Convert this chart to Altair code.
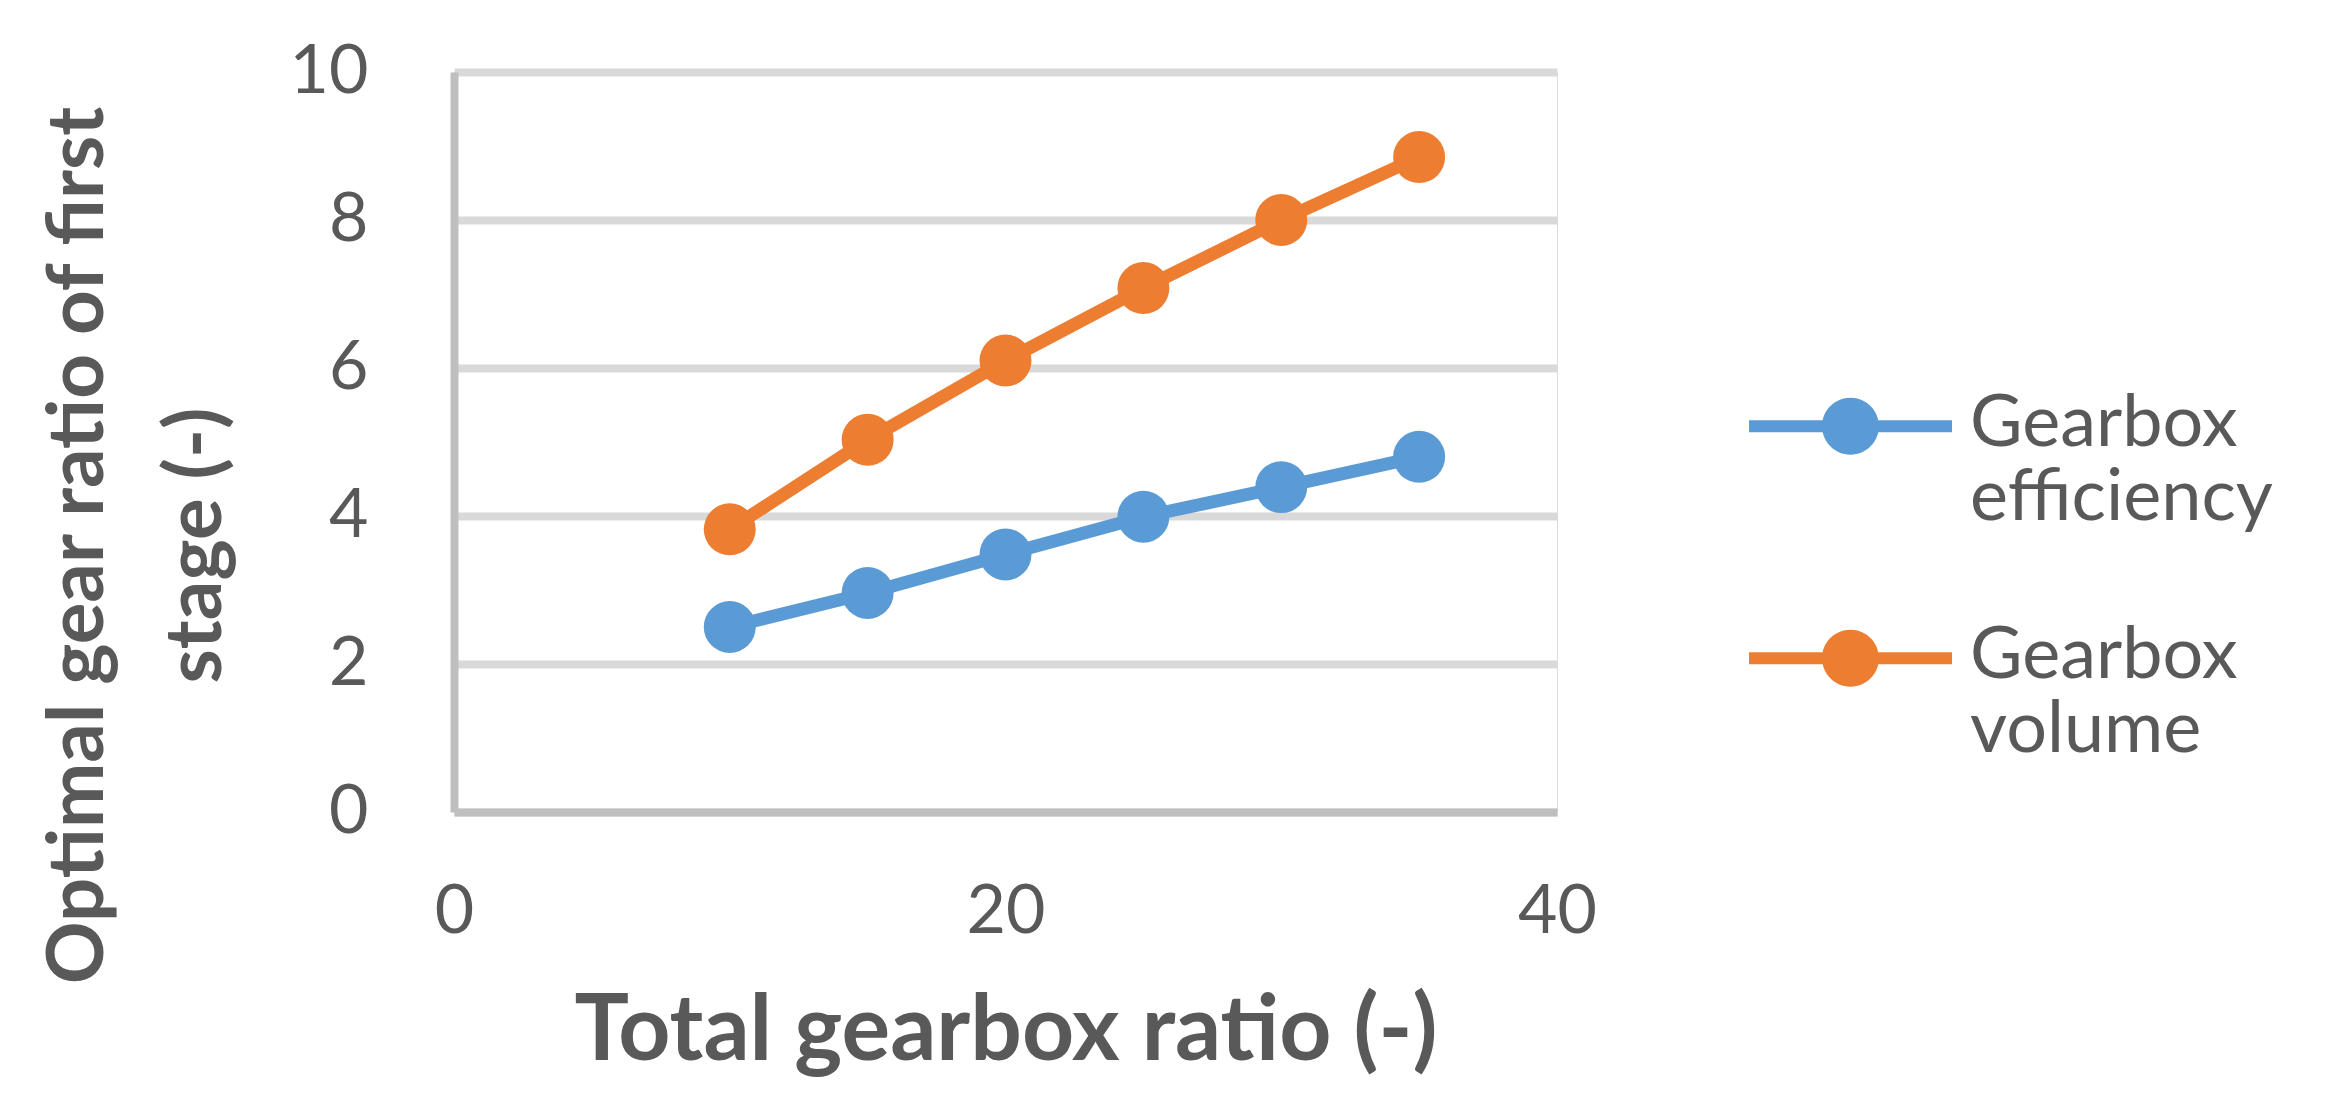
import altair as alt
import pandas as pd

# Data
ratio = [10, 15, 20, 25, 30, 35]
efficiency = [2.50, 2.96, 3.48, 3.99, 4.39, 4.80]
volume = [3.82, 5.03, 6.10, 7.08, 8.00, 8.85]
series = ["Gearbox efficiency", "Gearbox volume"]
colors = ["#5B9BD5", "#ED7D31"]
x_ticks = [0, 20, 40]
y_ticks = [0, 2, 4, 6, 8, 10]

df = pd.DataFrame({
    "ratio": ratio + ratio,
    "value": efficiency + volume,
    "series": [series[0]] * len(ratio) + [series[1]] * len(ratio),
})

TEXT = "#595959"
FONT = "Lato"

legend_path = ("M-1,-0.25L1,-0.25L1,-0.13L-1,-0.13Z "
               "M-0.28,-0.19A0.28,0.28 0 1 1 0.28,-0.19A0.28,0.28 0 1 1 -0.28,-0.19Z")

x_enc = alt.X(
    "ratio:Q",
    scale=alt.Scale(domain=[0, 40], nice=False),
    axis=alt.Axis(
        values=x_ticks, grid=False, ticks=False, tickSize=0,
        domainColor="#BFBFBF", domainWidth=8,
        labelFont=FONT, labelFontSize=68, labelColor=TEXT, labelPadding=66,
        labelBaseline="top", labelFlush=False, labelAlign="center",
        title="Total gearbox ratio (-)", titleFont=FONT, titleFontSize=91,
        titleFontWeight="bold", titleColor=TEXT, titleBaseline="alphabetic",
        titleY=247,
    ),
)
y_enc = alt.Y(
    "value:Q",
    scale=alt.Scale(domain=[0, 10], nice=False),
    axis=alt.Axis(
        values=y_ticks, grid=True, gridColor="#D9D9D9", gridWidth=8,
        ticks=False, tickSize=0, labelFlush=False,
        domainColor="#BFBFBF", domainWidth=8,
        labelFont=FONT, labelFontSize=68, labelColor=TEXT, labelPadding=86,
        title=["Optimal gear ratio of first", "stage (-)"],
        titleFont=FONT, titleFontSize=78, titleFontWeight="bold", titleColor=TEXT,
        titleAngle=270, titleBaseline="alphabetic", titleLineHeight=118,
        titleX=-352, titleY=473,
    ),
)

color_enc = alt.Color(
    "series:N",
    scale=alt.Scale(domain=series, range=colors),
    legend=alt.Legend(
        title=None, orient="none", legendX=1295, legendY=272,
        symbolType=legend_path, symbolSize=41209, symbolStrokeWidth=0,
        labelFont=FONT, labelFontSize=72, labelColor=TEXT,
        labelBaseline="alphabetic", labelOffset=18,
        labelLimit=1000, labelExpr="split(datum.label, ' ')",
        rowPadding=42, padding=0,
    ),
)

points = alt.Chart(df).mark_point(filled=True, size=2700, opacity=1).encode(
    x=x_enc, y=y_enc, color=color_enc,
)
line = alt.Chart(df).mark_line(strokeWidth=13).encode(
    x=x_enc, y=y_enc, color=color_enc,
)

chart = alt.layer(points, line).properties(
    width=1103, height=740,
    autosize=alt.AutoSizeParams(type="none"),
    padding={"left": 446, "top": 64, "right": 750, "bottom": 270},
).configure_view(strokeOpacity=0).configure(background="white")

chart.save("out.html", embed_options={"renderer": "svg", "actions": False})
